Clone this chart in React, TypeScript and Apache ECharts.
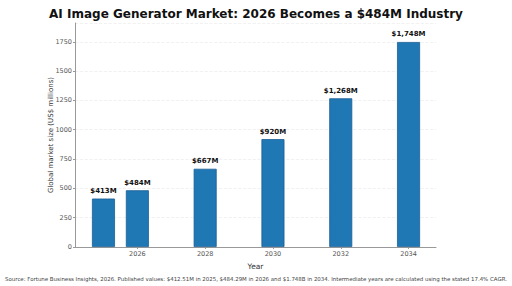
import React, { useEffect, useRef } from "react";
import * as echarts from "echarts";

const years = [2025, 2026, 2028, 2030, 2032, 2034];
const values = [413, 484, 667, 920, 1268, 1748];
const labels = ["$413M", "$484M", "$667M", "$920M", "$1,268M", "$1,748M"];
const xTicks = [2026, 2028, 2030, 2032, 2034];
const titleText = "AI Image Generator Market: 2026 Becomes a $484M Industry";
const sourceText =
  "Source: Fortune Business Insights, 2026. Published values: $412.51M in 2025, $484.29M in 2026 and $1.748B in 2034. Intermediate years are calculated using the stated 17.4% CAGR.";

const FONT = "DejaVu Sans";

export default function App() {
  const ref = useRef<HTMLDivElement>(null);
  useEffect(() => {
    if (!ref.current) return;
    const chart = echarts.init(ref.current, undefined, { renderer: "svg" });
    chart.setOption({
      animation: false,
      backgroundColor: "#ffffff",
      textStyle: { fontFamily: FONT },
      title: {
        text: titleText,
        left: "center",
        top: 3,
        textStyle: { fontFamily: FONT, fontSize: 12, fontWeight: "bold", color: "#111" },
      },
      graphic: [
        {
          type: "text",
          left: "center",
          top: 276,
          style: { text: sourceText, font: `5.45px ${FONT}`, fill: "#444" },
        },
      ],
      grid: { left: 75, right: 76, top: 23, bottom: 39 },
      xAxis: {
        type: "value",
        min: 2024.16,
        max: 2034.81,
        name: "Year",
        nameLocation: "middle",
        nameGap: 15,
        nameMoveOverlap: false,
        nameTextStyle: { fontFamily: FONT, fontSize: 7.5, color: "#333" },
        axisLine: { show: true, lineStyle: { color: "#999", width: 1 } },
        axisTick: { show: true, length: 2, customValues: xTicks, lineStyle: { color: "#999" } },
        axisLabel: {
          customValues: xTicks,
          fontFamily: FONT,
          fontSize: 6.5,
          color: "#555",
          margin: 3,
          formatter: (v: number) => String(v),
        },
        splitLine: { show: false },
      },
      yAxis: {
        type: "value",
        min: 0,
        max: 1910,
        interval: 250,
        name: "Global market size (US$ millions)",
        nameLocation: "middle",
        nameGap: 21,
        nameMoveOverlap: false,
        nameTextStyle: { fontFamily: FONT, fontSize: 7, color: "#333" },
        axisLine: { show: true, lineStyle: { color: "#999", width: 1 } },
        axisTick: { show: true, length: 2, lineStyle: { color: "#999" } },
        axisLabel: {
          fontFamily: FONT,
          fontSize: 6.5,
          color: "#555",
          margin: 3,
          showMaxLabel: false,
          formatter: (v: number) => String(v),
        },
        splitLine: { show: true, lineStyle: { color: "#ededed", type: "dashed", width: 0.8 } },
      },
      series: [
        {
          type: "bar",
          barWidth: 23,
          data: years.map((y, i) => [y, values[i]]),
          itemStyle: { color: "#1f77b4", borderColor: "#1a5f96", borderWidth: 0.8 },
          label: {
            show: true,
            position: "top",
            distance: 4,
            formatter: (p: any) => labels[p.dataIndex],
            fontFamily: FONT,
            fontSize: 7,
            fontWeight: "bold",
            color: "#111",
          },
        },
      ],
    });
    return () => chart.dispose();
  }, []);
  return (
    <div
      ref={ref}
      style={{ position: "fixed", left: 0, top: 0, width: 512, height: 286 }}
    />
  );
}
